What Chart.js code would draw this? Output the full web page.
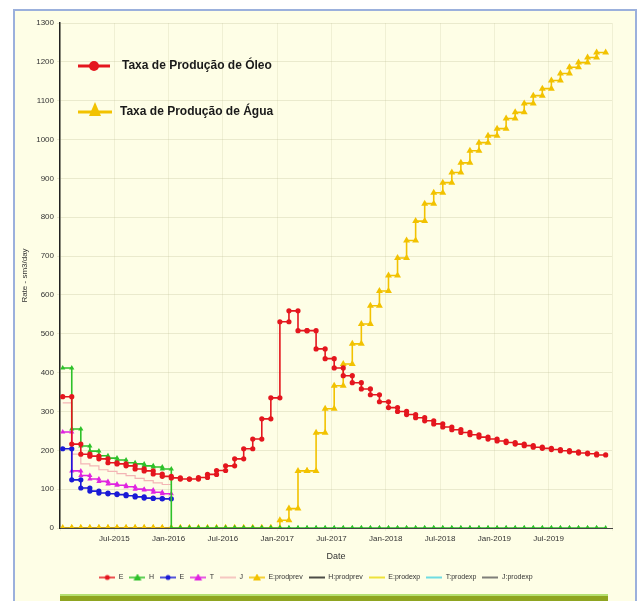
<!DOCTYPE html>
<html>
<head>
<meta charset="utf-8">
<script src="https://cdn.jsdelivr.net/npm/chart.js@4.4.1/dist/chart.umd.min.js"></script>
<style>
  body { margin: 0; background: #fff; }
  #frame { position: absolute; left: 13px; top: 9px; width: 620px; height: 600px;
           border: 2px solid #9bb0dc; background: #fefee6; }
  #band { position: absolute; left: 60px; top: 594px; width: 548px; height: 7px;
          background: linear-gradient(#b4e070 0 30%, #8fa520 30% 100%); }
  canvas { position: absolute; left: 0; top: 0; }
</style>
</head>
<body>
<div id="frame"></div>
<div id="band"></div>
<canvas id="chart" width="640" height="601"></canvas>
<script>
// months counted from Jan-2015 (index 0), one value per month
const oleo = [338, 216, 190, 185, 178, 168, 165, 160, 152, 147, 139, 133,
  129, 126, 126, 130, 138, 148, 160, 178, 204, 229, 281, 335,
  531, 559, 508, 508, 461, 436, 412, 392, 374, 358, 343, 325,
  310, 300, 292, 284, 276, 268, 260, 253, 246, 240, 234, 229,
  224, 220, 216, 212, 208, 205, 202, 199, 196, 193, 191, 188];

const agua = [0, 0, 0, 0, 0, 0, 0, 0, 0, 0, 0, 0,
  0, 0, 0, 0, 0, 0, 0, 0, 0, 0, 0, 0,
  20, 50, 147, 147, 245, 307, 366, 422, 474, 525, 572, 610,
  650, 695, 740, 790, 835, 863, 889, 915, 940, 971, 992, 1010,
  1028, 1054, 1070, 1093, 1113, 1131, 1152, 1170, 1186, 1198, 1211, 1224];

const wellH = [412, 255, 211, 198, 186, 180, 175, 168, 165, 160, 157, 152,
  0, 0, 0, 0, 0, 0, 0, 0, 0, 0, 0, 0,
  0, 0, 0, 0, 0, 0, 0, 0, 0, 0, 0, 0,
  0, 0, 0, 0, 0, 0, 0, 0, 0, 0, 0, 0,
  0, 0, 0, 0, 0, 0, 0, 0, 0, 0, 0, 0];

const wellE = [204, 124, 103, 95, 90, 88, 86, 83, 80, 77, 76, 75];
const wellT = [247, 147, 135, 126, 120, 113, 110, 106, 100, 98, 92, 88];
const wellJ = [322, 190, 165, 160, 150, 146, 140, 135, 128, 122, 116, 112];
const prevH = [0, 0, 0, 0, 0, 0, 0, 0, 0, 0, 0, 0];

const legendNames = ["E", "H", "E", "T", "J", "E:prodprev", "H:prodprev",
  "E:prodexp", "T:prodexp", "J:prodexp"];
const monthNames = ["Jan", "Jul"];

const OFF = 0.3;

// each monthly value is held over the whole month -> two points
function steps(values) {
  const pts = [];
  values.forEach((v, i) => {
    pts.push({ x: i + OFF, y: v });
    pts.push({ x: i + 1 + OFF, y: v });
  });
  return pts;
}

function ds(label, values, color, style, radius, width) {
  return {
    label: label,
    data: steps(values),
    borderColor: color,
    backgroundColor: color,
    pointStyle: style,
    pointRadius: radius,
    pointBorderWidth: 0,
    borderWidth: width,
    tension: 0
  };
}

const datasets = [
  ds(legendNames[0], oleo, "#e4161e", "circle", 2.6, 1.6),
  ds(legendNames[1], wellH, "#2ec12a", "triangle", 3, 1.6),
  ds(legendNames[2], wellE, "#1b1bd6", "circle", 2.6, 1.6),
  ds(legendNames[3], wellT, "#e024e0", "triangle", 3, 1.6),
  ds(legendNames[4], wellJ, "#f3b5b5", "circle", 0, 1.2),
  ds(legendNames[5], agua, "#f2c200", "triangle", 4, 1.6),
  ds(legendNames[6], prevH, "#111111", "circle", 0, 1.5),
  ds(legendNames[7], [], "#e8d800", "circle", 0, 1.5),
  ds(legendNames[8], [], "#3fd0e0", "circle", 0, 1.5),
  ds(legendNames[9], [], "#555555", "circle", 0, 1.5)
];

// small line+marker icons for the bottom legend
function icon(color, style) {
  const c = document.createElement("canvas");
  c.width = 16; c.height = 8;
  const g = c.getContext("2d");
  g.strokeStyle = color; g.fillStyle = color; g.lineWidth = 1.5;
  g.beginPath(); g.moveTo(0, 4); g.lineTo(16, 4); g.stroke();
  if (style === "circle") {
    g.beginPath(); g.arc(8, 4, 2.5, 0, Math.PI * 2); g.fill();
  } else if (style === "triangle") {
    g.beginPath(); g.moveTo(8, 0); g.lineTo(12, 7); g.lineTo(4, 7); g.closePath(); g.fill();
  }
  return c;
}

const overlayLegend = {
  id: "overlayLegend",
  afterDraw(chart) {
    const ctx = chart.ctx;
    ctx.save();
    ctx.font = 'bold 12px "Liberation Sans", Arial, sans-serif';
    ctx.textBaseline = "middle";
    // óleo
    ctx.strokeStyle = "#e4161e"; ctx.fillStyle = "#e4161e"; ctx.lineWidth = 3;
    ctx.beginPath(); ctx.moveTo(78, 66); ctx.lineTo(110, 66); ctx.stroke();
    ctx.beginPath(); ctx.arc(94, 66, 5, 0, Math.PI * 2); ctx.fill();
    ctx.fillStyle = "#1a1a1a";
    ctx.fillText("Taxa de Produção de Óleo", 122, 66);
    // água
    ctx.strokeStyle = "#f2c200"; ctx.fillStyle = "#f2c200";
    ctx.beginPath(); ctx.moveTo(78, 112); ctx.lineTo(112, 112); ctx.stroke();
    ctx.beginPath(); ctx.moveTo(95, 102); ctx.lineTo(101, 116); ctx.lineTo(89, 116); ctx.closePath(); ctx.fill();
    ctx.fillStyle = "#1a1a1a";
    ctx.fillText("Taxa de Produção de Água", 120, 112);
    ctx.restore();
  }
};

new Chart(document.getElementById("chart"), {
  type: "line",
  data: { datasets: datasets },
  plugins: [overlayLegend],
  options: {
    responsive: false,
    animation: false,
    parsing: false,
    layout: { padding: { left: 20, top: 23, right: 28, bottom: 10 } },
    scales: {
      x: {
        type: "linear",
        min: 0,
        max: 61,
        afterFit(s) { s.height = 40; },
        ticks: {
          stepSize: 6,
          autoSkip: false,
          maxRotation: 0,
          color: "#333",
          font: { size: 8, family: "Liberation Sans" },
          callback: v => (v % 6 === 0 && v > 0 && v < 60)
            ? monthNames[(v % 12) / 6] + "-" + (2015 + Math.floor(v / 12)) : ""
        },
        grid: { color: "rgba(190,190,150,0.22)", tickLength: 3 },
        border: { color: "#444" },
        title: { display: true, text: "Date", color: "#333", padding: { top: 0, bottom: 6 },
                 font: { size: 9, family: "Liberation Sans" } }
      },
      y: {
        min: 0,
        max: 1300,
        afterFit(s) { s.width = 40; },
        ticks: { stepSize: 100, color: "#333", font: { size: 8, family: "Liberation Sans" },
                 callback: v => String(v) },
        grid: { color: "rgba(190,190,150,0.3)", tickLength: 3 },
        border: { color: "#222", width: 1.5 },
        title: { display: true, text: "Rate - sm3/day", color: "#333", padding: 0,
                 font: { size: 8, family: "Liberation Sans" } }
      }
    },
    plugins: {
      tooltip: { enabled: false },
      legend: {
        position: "bottom",
        labels: {
          usePointStyle: true,
          pointStyleWidth: 16,
          padding: 6,
          color: "#333",
          font: { size: 7, family: "Liberation Sans" },
          generateLabels(chart) {
            const items = Chart.defaults.plugins.legend.labels.generateLabels(chart);
            items.forEach((it, i) => {
              const d = chart.data.datasets[i];
              it.pointStyle = icon(d.borderColor, d.pointRadius > 0 ? d.pointStyle : "none");
            });
            return items;
          }
        }
      }
    }
  }
});
</script>
</body>
</html>
